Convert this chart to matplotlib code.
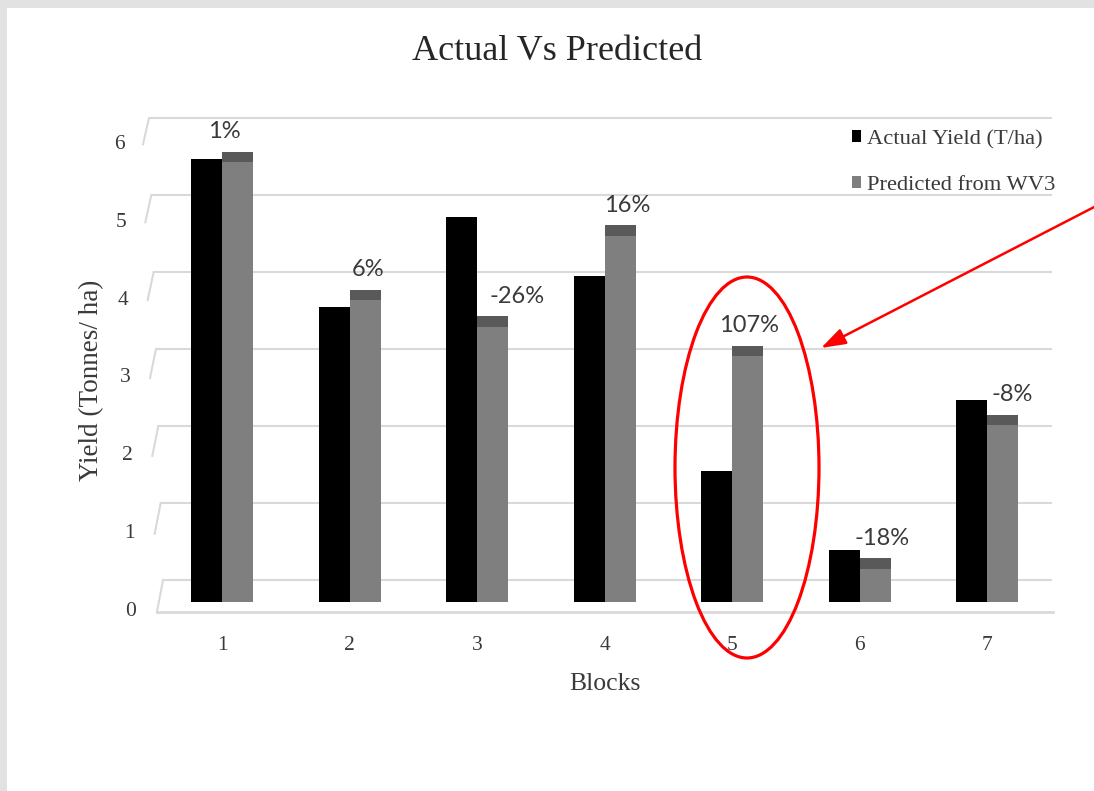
import matplotlib
matplotlib.use('Agg')
import numpy as np
import matplotlib.pyplot as plt
import matplotlib.transforms as mtransforms
from matplotlib.patches import Ellipse, Rectangle, FancyArrowPatch
from matplotlib.lines import Line2D

# ---------------- data ----------------
blocks = ['1', '2', '3', '4', '5', '6', '7']
actual = [5.57, 3.67, 4.82, 4.07, 1.55, 0.54, 2.47]
predicted = [5.67, 3.89, 3.55, 4.72, 3.17, 0.43, 2.28]
pct_labels = ['1%', '6%', '-26%', '16%', '107%', '-18%', '-8%']
y_ticks = [0, 1, 2, 3, 4, 5, 6]
series_names = ['Actual Yield (T/ha)', 'Predicted from WV3']
title = 'Actual Vs Predicted'
x_title = 'Blocks'
y_title = 'Yield (Tonnes/ ha)'

# ---------------- layout helpers ----------------
W, H = 1094, 791
fig = plt.figure(figsize=(W / 100, H / 100), dpi=100, facecolor='#e2e2e2')


def fx(px):
    return px / W


def fy(py):
    return 1 - py / H


SERIF = ['Liberation Serif', 'DejaVu Serif']
SANS = ['Lato', 'DejaVu Sans']
TXT = '#3a3a3a'

# white chart panel inside grey border
fig.add_artist(Rectangle((fx(7), 0), 1, fy(8), transform=fig.transFigure,
                         facecolor='white', edgecolor='none', zorder=0))

AX_L, AX_R, AX_T, AX_B = 150, 1055, 100, 640
rect = [fx(AX_L), fy(AX_B), fx(AX_R) - fx(AX_L), fy(AX_T) - fy(AX_B)]
CAT0_PX, CAT_STEP = 222, 127.5
xlim = (1 + (AX_L - CAT0_PX) / CAT_STEP, 1 + (AX_R - CAT0_PX) / CAT_STEP)


def make_ax(y0_px, scale):
    a = fig.add_axes(rect)
    a.set_xlim(*xlim)
    a.set_ylim(-(AX_B - y0_px) / scale, (y0_px - AX_T) / scale)
    a.axis('off')
    a.patch.set_alpha(0)
    return a


ax_back = make_ax(580, 77.0)     # back wall (gridlines)
ax_front = make_ax(611.7, 77.9)  # front plane (tick labels, floor edge)
ax = make_ax(602, 77.6)          # bar plane

GRID = '#d9d9d9'
bt_back = mtransforms.blended_transform_factory(fig.transFigure, ax_back.transData)
bt_front = mtransforms.blended_transform_factory(fig.transFigure, ax_front.transData)

# back gridlines + slanted side-wall segments
for k in y_ticks:
    xl_back = 163 - 14 * k / 6
    xl_front = 157 - 14 * k / 6
    ax_back.plot([fx(xl_back), fx(1052)], [k, k], color=GRID, lw=1.5,
                 transform=bt_back, solid_capstyle='butt', zorder=0)
    y_b = ax_back.transData.transform((1, k))[1]
    y_f = ax_front.transData.transform((1, k))[1]
    fig.add_artist(Line2D([fx(xl_front), fx(xl_back)],
                          [y_f / (H), y_b / (H)],
                          transform=fig.transFigure, color=GRID, lw=1.5))
# floor front edge
ax_front.plot([fx(157), fx(1053)], [0, 0], color=GRID, lw=2.0,
              transform=bt_front, zorder=0)

# ---------------- bars ----------------
x = np.arange(1, len(blocks) + 1)
w = 31 / CAT_STEP
cap = 10.5 / 77.6
b1 = ax.bar(x - w / 2, actual, w, color='black', zorder=3)
b2 = ax.bar(x + w / 2, predicted, w, color='#7f7f7f', zorder=3)
ax.bar(x - w / 2, cap, w, bottom=actual, color='black', zorder=3)
ax.bar(x + w / 2, cap, w, bottom=predicted, color='#595959', zorder=3)

# percentage labels
label_dx = [-13, 3, 25, 7, 2, 7, 10]
for i, (p, lab) in enumerate(zip(predicted, pct_labels)):
    ax.annotate(lab, xy=(x[i] + w / 2, p + cap), xytext=(label_dx[i], 20),
                textcoords='offset pixels', ha='center', va='center',
                fontsize=17, family=SANS, color=TXT, zorder=5)

# y tick labels (front plane, slightly slanted)
for k in y_ticks:
    ax_front.text(fx(131 - 2 * k), k, str(k), transform=bt_front,
                  ha='center', va='center', fontsize=15.5, family=SERIF, color=TXT)

# x tick labels
bt_x = mtransforms.blended_transform_factory(ax.transData, fig.transFigure)
for i, b in enumerate(blocks):
    ax.text(x[i], fy(645), b, transform=bt_x, ha='center', va='center',
            fontsize=15.5, family=SERIF, color=TXT)

# titles
fig.text(fx(557), fy(52), title, ha='center', va='center', fontsize=26,
         family=SERIF, color='#262626')
fig.text(fx(605), fy(684), x_title, ha='center', va='center', fontsize=18.5,
         family=SERIF, color=TXT)
fig.text(fx(92), fy(380), y_title, ha='center', va='center', rotation=90,
         fontsize=19.5, family=SERIF, color=TXT)

# legend
leg = ax.legend([b1, b2], series_names, loc='upper left',
                bbox_to_anchor=(fx(852), fy(130)), bbox_transform=fig.transFigure,
                frameon=False, prop={'family': SERIF, 'size': 16.2},
                handlelength=0.42, handleheight=0.42, handletextpad=0.25,
                labelspacing=1.2, borderpad=0, borderaxespad=0)
for t in leg.get_texts():
    t.set_color(TXT)

# red annotation: ellipse + arrow
fig.add_artist(Ellipse((fx(747), fy(467.5)), width=144 / W, height=381 / H,
                       transform=fig.transFigure, fill=False,
                       edgecolor='#ff0000', lw=2.3, zorder=10))
fig.add_artist(FancyArrowPatch((fx(1100), fy(204)), (fx(821), fy(348)),
                               transform=fig.transFigure,
                               arrowstyle='-|>,head_length=1.5,head_width=0.5',
                               mutation_scale=10, color='#ff0000', lw=1.8,
                               shrinkA=0, shrinkB=0, zorder=10))

fig.savefig('out.png', dpi=100, facecolor=fig.get_facecolor())
